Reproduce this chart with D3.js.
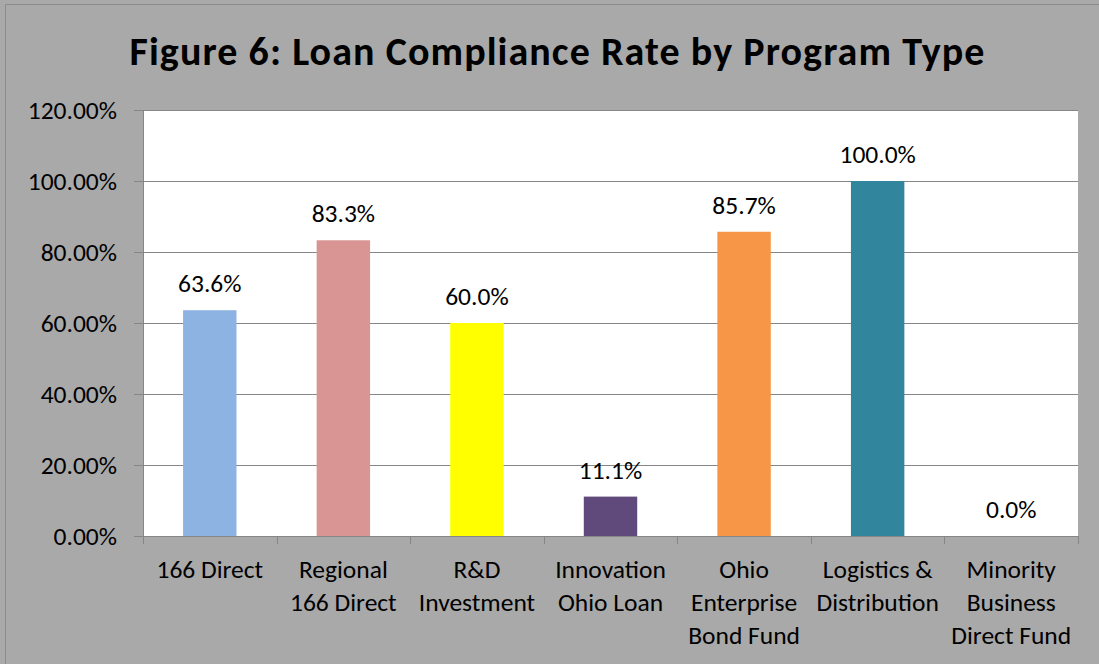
<!DOCTYPE html>
<html>
<head>
<meta charset="utf-8">
<script src="https://cdn.jsdelivr.net/npm/d3@7"></script>
<style>
  html, body { margin: 0; padding: 0; background: #a9a9a9; }
  svg { display: block; font-family: Carlito, Calibri, Lato, sans-serif; }
</style>
</head>
<body>
<svg id="chart" width="1099" height="664"></svg>
<script>
// chart data
const categories = [
  ["166 Direct"],
  ["Regional", "166 Direct"],
  ["R&D", "Investment"],
  ["Innovation", "Ohio Loan"],
  ["Ohio", "Enterprise", "Bond Fund"],
  ["Logistics &", "Distribution"],
  ["Minority", "Business", "Direct Fund"]
];
const rates = [63.6, 83.3, 60.0, 11.1, 85.7, 100.0, 0.0];
const barColors = ["#8db3e2", "#d99594", "#ffff00", "#604a7b", "#f79646", "#31859c", "#4f81bd"];
const yTicks = [0, 20, 40, 60, 80, 100, 120];

const svg = d3.select("#chart");
const margin = { top: 110, right: 21, bottom: 128, left: 143 };
const W = 1099, H = 664;
const iw = W - margin.left - margin.right;
const ih = H - margin.top - margin.bottom;
const fs = "25.5px";

// outer frame
svg.append("rect")
  .attr("x", 5.5).attr("y", 4.5)
  .attr("width", W + 10).attr("height", H + 10)
  .attr("fill", "#a9a9a9")
  .attr("stroke", "#8c8c8c");

svg.append("text")
  .attr("x", 557).attr("y", 65)
  .attr("text-anchor", "middle")
  .attr("textLength", 855)
  .attr("lengthAdjust", "spacing")
  .style("font-size", "40px")
  .style("font-weight", "bold")
  .text("Figure 6: Loan Compliance Rate by Program Type");

const g = svg.append("g").attr("transform", `translate(${margin.left},${margin.top})`);

const x = d3.scaleBand().domain(d3.range(categories.length)).range([0, iw]).paddingInner(0.6).paddingOuter(0.3);
const y = d3.scaleLinear().domain([0, 120]).range([ih, 0]);

g.append("rect").attr("width", iw).attr("height", ih).attr("fill", "#fff");

// gridlines
g.selectAll("line.grid")
  .data(yTicks.slice(1, -1))
  .join("line")
  .attr("class", "grid")
  .attr("x1", 0).attr("x2", iw)
  .attr("y1", d => Math.round(y(d)) + 0.5).attr("y2", d => Math.round(y(d)) + 0.5)
  .attr("stroke", "#868686");

// top border of the plot
g.append("line").attr("x1", 0).attr("x2", iw).attr("y1", 0.5).attr("y2", 0.5).attr("stroke", "#868686");

// bars
g.selectAll("rect.bar")
  .data(rates)
  .join("rect")
  .attr("class", "bar")
  .attr("x", (d, i) => x(i))
  .attr("width", x.bandwidth())
  .attr("y", d => y(d))
  .attr("height", d => ih - y(d))
  .attr("fill", (d, i) => barColors[i]);

// value labels
g.selectAll("text.val")
  .data(rates)
  .join("text")
  .attr("class", "val")
  .attr("x", (d, i) => x(i) + x.bandwidth() / 2)
  .attr("y", d => y(d) - 18)
  .attr("text-anchor", "middle")
  .style("font-size", fs)
  .text(d => d.toFixed(1) + "%");

// y axis
const yAxis = g.append("g")
  .call(d3.axisLeft(y).tickValues(yTicks).tickSize(9).tickFormat(d => d.toFixed(2) + "%"));
yAxis.select(".domain").attr("stroke", "#868686").attr("d", `M0.5,0V${ih}`);
yAxis.selectAll(".tick line").attr("stroke", "#868686");
yAxis.selectAll(".tick text")
  .attr("x", -26)
  .attr("fill", "#000")
  .style("font-size", fs)
  .style("font-family", "Carlito, Calibri, Lato, sans-serif");

// x axis with boundary ticks
const step = iw / categories.length;
const xAxisG = g.append("g").attr("transform", `translate(0,${ih})`);
xAxisG.append("line").attr("x1", 0).attr("x2", iw).attr("y1", 0.5).attr("y2", 0.5).attr("stroke", "#868686");
xAxisG.selectAll("line.tk")
  .data(d3.range(categories.length + 1))
  .join("line")
  .attr("class", "tk")
  .attr("x1", i => Math.round(i * step) + 0.5).attr("x2", i => Math.round(i * step) + 0.5)
  .attr("y1", 0).attr("y2", 8)
  .attr("stroke", "#868686");

xAxisG.selectAll("text.cat")
  .data(categories)
  .join("text")
  .attr("class", "cat")
  .attr("text-anchor", "middle")
  .style("font-size", fs)
  .each(function (lines, i) {
    d3.select(this).selectAll("tspan")
      .data(lines)
      .join("tspan")
      .attr("x", x(i) + x.bandwidth() / 2)
      .attr("y", (l, j) => 42 + j * 33)
      .text(l => l);
  });
</script>
</body>
</html>
